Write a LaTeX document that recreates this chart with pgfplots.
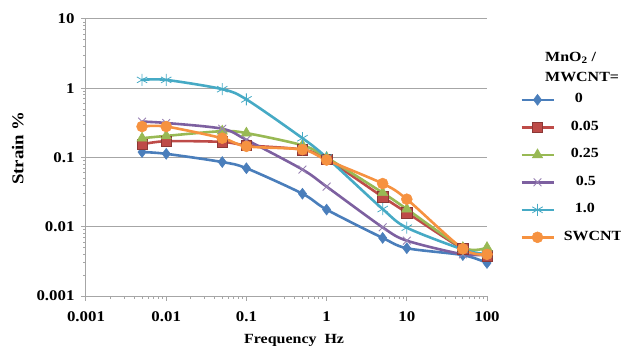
\documentclass[border=0pt]{standalone}
\usepackage{pgfplots}
\pgfplotsset{compat=1.18}
\usepackage{fontspec}
\setmainfont[FakeStretch=1.14]{Liberation Serif}
\definecolor{cBlue}{HTML}{4A7EBB}
\definecolor{cRed}{HTML}{BE4B48}
\definecolor{cRedD}{HTML}{8C3836}
\definecolor{cGreen}{HTML}{98B954}
\definecolor{cPurple}{HTML}{7D60A0}
\definecolor{cCyan}{HTML}{46AAC5}
\definecolor{cOrange}{HTML}{F69240}
\definecolor{cGrid}{HTML}{A6A6A6}
\newcommand{\tf}{\fontsize{14.8}{17}\selectfont\bfseries}
\newcommand{\lf}{\fontsize{14}{16}\selectfont\bfseries}
\begin{document}
\begin{tikzpicture}
\useasboundingbox (0,0) rectangle (621pt,348pt);
\begin{axis}[
  at={(86pt,52pt)}, anchor=south west,
  width=401pt, height=277pt, scale only axis,
  xmode=log, ymode=log,
  xmin=0.001, xmax=100, ymin=0.001, ymax=10,
  axis lines=left,
  axis line style={draw=cGrid, line width=1pt, -},
  xtick={0.001,0.01,0.1,1,10,100},
  xticklabels={0.001,0.01,0.1,1,10,100},
  ytick={0.001,0.01,0.1,1,10},
  yticklabels={0.001,0.01,0.1,1,10},
  minor xtick={}, minor ytick={},
  tick align=outside, major tick length=5pt,
  tick style={draw=cGrid, line width=1pt},
  ymajorgrids, grid style={draw=cGrid, line width=1pt},
  ticklabel style={font=\tf},
  xticklabel style={yshift=-7pt},
  yticklabel style={xshift=-3pt},
  xlabel={Frequency\ \ Hz},
  xlabel style={font=\lf, at={(axis description cs:0.519,-0.159)}, anchor=center},
  ylabel={Strain \%},
  ylabel style={font=\fontsize{16.5}{18}\selectfont\bfseries, at={(axis description cs:-0.17,0.534)}, anchor=center, rotate=0},
  clip=false,
  legend style={at={(axis description cs:1.0823,0.46)}, anchor=west,
    draw=none, fill=none, inner sep=0pt, font=\lf,
    column sep=13pt, row sep=15.5pt,
    nodes={inner sep=0pt, text height=9pt, text depth=3pt}},
  legend cell align=left,
  legend image code/.code={\draw[mark repeat=2, mark phase=2] plot coordinates {(0pt,0pt) (16pt,0pt) (32pt,0pt)};},
  every axis plot/.append style={line width=2.6pt, smooth, tension=0.5},
]
\addplot[cBlue, mark=diamond*, mark size=5.5pt, mark options={fill=cBlue, draw=cBlue, line width=0.5pt}] coordinates {
(0.005,0.120) (0.01,0.113) (0.05,0.086) (0.1,0.070) (0.5,0.030) (1,0.0177) (5,0.0069) (10,0.0049) (50,0.0039) (100,0.0030)};
\addlegendentry{\hspace*{7pt}0}
\addplot[cRed, mark=square*, mark size=5.2pt, mark options={fill=cRed, draw=cRedD, line width=0.6pt}] coordinates {
(0.005,0.155) (0.01,0.172) (0.05,0.168) (0.1,0.150) (0.5,0.130) (1,0.095) (5,0.027) (10,0.016) (50,0.0048) (100,0.0038)};
\addlegendentry{\hspace*{3pt}0.05}
\addplot[cGreen, mark=triangle*, mark size=6pt, mark options={fill=cGreen, draw=cGreen, line width=0.5pt}] coordinates {
(0.005,0.190) (0.01,0.205) (0.05,0.240) (0.1,0.225) (0.5,0.150) (1,0.100) (5,0.031) (10,0.018) (50,0.0050) (100,0.0050)};
\addlegendentry{\hspace*{3pt}0.25}
\addplot[cPurple, mark=x, mark size=5.5pt, mark options={draw=cPurple!80, line width=0.9pt}] coordinates {
(0.005,0.330) (0.01,0.315) (0.05,0.260) (0.1,0.180) (0.5,0.067) (1,0.038) (5,0.0098) (10,0.0063) (50,0.0040) (100,0.0040)};
\addlegendentry{\hspace*{8pt}0.5}
\addplot[cCyan, mark=asterisk, mark size=6pt, mark options={draw=cCyan, line width=0.8pt}] coordinates {
(0.005,1.32) (0.01,1.32) (0.05,0.97) (0.1,0.69) (0.5,0.190) (1,0.100) (5,0.018) (10,0.0097) (50,0.0047) (100,0.0040)};
\addlegendentry{\hspace*{7pt}1.0}
\addplot[cOrange, mark=*, mark size=5.5pt, mark options={fill=cOrange, draw=cOrange, line width=0.5pt}] coordinates {
(0.005,0.280) (0.01,0.280) (0.05,0.190) (0.1,0.145) (0.5,0.130) (1,0.092) (5,0.042) (10,0.025) (50,0.0048) (100,0.0040)};
\addlegendentry{\hspace*{-4pt}SWCNT}
\node[font=\lf, anchor=west, inner sep=0pt] at (axis description cs:1.1446,0.859) {MnO\textsubscript{2} /};
\node[font=\lf, anchor=west, inner sep=0pt] at (axis description cs:1.1446,0.791) {MWCNT=};
\end{axis}
\end{tikzpicture}
\end{document}
